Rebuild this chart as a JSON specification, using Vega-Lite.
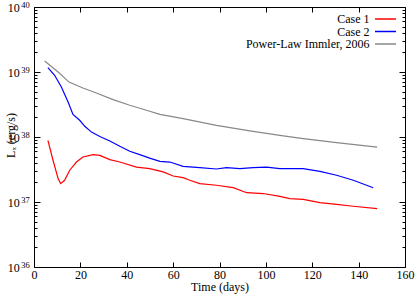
{
  "$schema": "https://vega.github.io/schema/vega-lite/v6.json",
  "width": 371,
  "height": 260,
  "autosize": "none",
  "padding": {"left": 34, "top": 7, "right": 10, "bottom": 27},
  "config": {
    "font": "'Liberation Serif', 'Times New Roman', 'DejaVu Serif', serif",
    "view": {"stroke": "#000000", "strokeWidth": 1},
    "axis": {"domain": false, "grid": false, "tickColor": "#000000", "labelColor": "#000000", "titleColor": "#000000", "labelFont": "'Liberation Serif', 'Times New Roman', 'DejaVu Serif', serif", "titleFont": "'Liberation Serif', 'Times New Roman', 'DejaVu Serif', serif", "labelFontSize": 12, "titleFontSize": 12, "titleFontWeight": "normal"},
    "legend": {"labelFont": "'Liberation Serif', 'Times New Roman', 'DejaVu Serif', serif", "labelFontSize": 12, "labelColor": "#000000"}
  },
  "data": {"values": [
    {"series": "Case 1", "day": 6.0, "L": 8.9e37},
    {"series": "Case 1", "day": 8.2, "L": 4.39e37},
    {"series": "Case 1", "day": 10.4, "L": 2.29e37},
    {"series": "Case 1", "day": 11.5, "L": 1.92e37},
    {"series": "Case 1", "day": 13.2, "L": 2.16e37},
    {"series": "Case 1", "day": 15.4, "L": 3.08e37},
    {"series": "Case 1", "day": 18.3, "L": 4.12e37},
    {"series": "Case 1", "day": 21.1, "L": 4.92e37},
    {"series": "Case 1", "day": 25.5, "L": 5.36e37},
    {"series": "Case 1", "day": 28.4, "L": 5.22e37},
    {"series": "Case 1", "day": 32.7, "L": 4.49e37},
    {"series": "Case 1", "day": 37.0, "L": 4.12e37},
    {"series": "Case 1", "day": 44.2, "L": 3.45e37},
    {"series": "Case 1", "day": 49.9, "L": 3.27e37},
    {"series": "Case 1", "day": 55.7, "L": 2.9e37},
    {"series": "Case 1", "day": 60.0, "L": 2.51e37},
    {"series": "Case 1", "day": 64.3, "L": 2.37e37},
    {"series": "Case 1", "day": 67.2, "L": 2.16e37},
    {"series": "Case 1", "day": 71.5, "L": 1.92e37},
    {"series": "Case 1", "day": 78.7, "L": 1.81e37},
    {"series": "Case 1", "day": 85.9, "L": 1.66e37},
    {"series": "Case 1", "day": 91.7, "L": 1.39e37},
    {"series": "Case 1", "day": 98.8, "L": 1.35e37},
    {"series": "Case 1", "day": 106.0, "L": 1.22e37},
    {"series": "Case 1", "day": 110.4, "L": 1.13e37},
    {"series": "Case 1", "day": 116.1, "L": 1.10e37},
    {"series": "Case 1", "day": 123.3, "L": 9.8e36},
    {"series": "Case 1", "day": 130.5, "L": 9.2e36},
    {"series": "Case 1", "day": 137.7, "L": 8.6e36},
    {"series": "Case 1", "day": 148.0, "L": 7.9e36},
    {"series": "Case 2", "day": 6.0, "L": 1.17e39},
    {"series": "Case 2", "day": 8.9, "L": 8.9e38},
    {"series": "Case 2", "day": 11.8, "L": 5.87e38},
    {"series": "Case 2", "day": 14.7, "L": 3.45e38},
    {"series": "Case 2", "day": 16.8, "L": 2.23e38},
    {"series": "Case 2", "day": 19.7, "L": 1.81e38},
    {"series": "Case 2", "day": 21.9, "L": 1.46e38},
    {"series": "Case 2", "day": 24.8, "L": 1.19e38},
    {"series": "Case 2", "day": 28.4, "L": 1.02e38},
    {"series": "Case 2", "day": 32.7, "L": 8.67e37},
    {"series": "Case 2", "day": 37.0, "L": 7.19e37},
    {"series": "Case 2", "day": 41.3, "L": 6.03e37},
    {"series": "Case 2", "day": 45.6, "L": 5.36e37},
    {"series": "Case 2", "day": 49.9, "L": 4.73e37},
    {"series": "Case 2", "day": 54.3, "L": 4.23e37},
    {"series": "Case 2", "day": 58.6, "L": 4.12e37},
    {"series": "Case 2", "day": 64.3, "L": 3.54e37},
    {"series": "Case 2", "day": 71.5, "L": 3.38e37},
    {"series": "Case 2", "day": 78.7, "L": 3.22e37},
    {"series": "Case 2", "day": 83.0, "L": 3.38e37},
    {"series": "Case 2", "day": 88.8, "L": 3.27e37},
    {"series": "Case 2", "day": 94.5, "L": 3.38e37},
    {"series": "Case 2", "day": 100.3, "L": 3.45e37},
    {"series": "Case 2", "day": 106.0, "L": 3.27e37},
    {"series": "Case 2", "day": 116.1, "L": 3.27e37},
    {"series": "Case 2", "day": 123.3, "L": 2.96e37},
    {"series": "Case 2", "day": 130.5, "L": 2.58e37},
    {"series": "Case 2", "day": 137.7, "L": 2.16e37},
    {"series": "Case 2", "day": 146.3, "L": 1.66e37},
    {"series": "Power-Law Immler, 2006", "day": 4.6, "L": 1.476e39},
    {"series": "Power-Law Immler, 2006", "day": 10.4, "L": 1.0e39},
    {"series": "Power-Law Immler, 2006", "day": 15.1, "L": 7.0e38},
    {"series": "Power-Law Immler, 2006", "day": 21.1, "L": 5.68e38},
    {"series": "Power-Law Immler, 2006", "day": 26.9, "L": 4.75e38},
    {"series": "Power-Law Immler, 2006", "day": 34.1, "L": 3.76e38},
    {"series": "Power-Law Immler, 2006", "day": 41.3, "L": 3.08e38},
    {"series": "Power-Law Immler, 2006", "day": 48.5, "L": 2.58e38},
    {"series": "Power-Law Immler, 2006", "day": 54.3, "L": 2.23e38},
    {"series": "Power-Law Immler, 2006", "day": 64.3, "L": 1.92e38},
    {"series": "Power-Law Immler, 2006", "day": 78.7, "L": 1.51e38},
    {"series": "Power-Law Immler, 2006", "day": 93.1, "L": 1.24e38},
    {"series": "Power-Law Immler, 2006", "day": 106.0, "L": 1.06e38},
    {"series": "Power-Law Immler, 2006", "day": 116.1, "L": 9.44e37},
    {"series": "Power-Law Immler, 2006", "day": 130.5, "L": 8.2e37},
    {"series": "Power-Law Immler, 2006", "day": 148.0, "L": 7.0e37}
  ]},
  "resolve": {"axis": {"x": "independent", "y": "independent"}},
  "layer": [
    {
      "mark": {"type": "line", "strokeWidth": 1.2},
      "encoding": {
        "x": {"field": "day", "type": "quantitative", "scale": {"domain": [0, 160], "nice": false},
              "axis": {"orient": "bottom", "title": "Time (days)", "values": [0, 20, 40, 60, 80, 100, 120, 140, 160], "tickSize": -5, "labelPadding": 7, "titlePadding": 1.5, "labelFlush": false}},
        "y": {"field": "L", "type": "quantitative", "scale": {"type": "log", "domain": [1e36, 1e40], "nice": false},
              "axis": {"orient": "left", "title": "Lₓ (erg/s)", "titleX": -17, "titleY": 128, "labelPadding": 20.7, "labelFlush": false, "labelBaseline": "middle",
                "values": [1e36, 2e36, 3e36, 4e36, 5e36, 6e36, 7e36, 8e36, 9e36, 1e37, 2e37, 3e37, 4e37, 5e37, 6e37, 7e37, 8e37, 9e37, 1e38, 2e38, 3e38, 4e38, 5e38, 6e38, 7e38, 8e38, 9e38, 1e39, 2e39, 3e39, 4e39, 5e39, 6e39, 7e39, 8e39, 9e39, 1e40],
                "tickSize": {"condition": {"test": "datum.value == 1e36 || datum.value == 1e37 || datum.value == 1e38 || datum.value == 1e39 || datum.value == 1e40", "value": -6}, "value": -3},
                "labelExpr": "datum.value == 1e36 || datum.value == 1e37 || datum.value == 1e38 || datum.value == 1e39 || datum.value == 1e40 ? '10' : ''"}},
        "color": {"field": "series", "type": "nominal",
                  "scale": {"domain": ["Case 1", "Case 2", "Power-Law Immler, 2006"], "range": ["#ff0000", "#0000ff", "#888888"]},
                  "legend": {"title": null, "orient": "none", "legendX": 345.5, "legendY": 6, "padding": 0, "symbolType": "M-2,0H2", "symbolSize": 110, "symbolStrokeWidth": 1.5, "labelAlign": "right", "labelOffset": -22, "rowPadding": 0.5}}
      }
    },
    {
      "mark": {"type": "line", "strokeOpacity": 0},
      "encoding": {
        "x": {"field": "day", "type": "quantitative", "scale": {"domain": [0, 160], "nice": false},
              "axis": {"orient": "top", "title": null, "labels": false, "values": [0, 20, 40, 60, 80, 100, 120, 140, 160], "tickSize": -5}},
        "y": {"field": "L", "type": "quantitative", "scale": {"type": "log", "domain": [1e36, 1e40], "nice": false},
              "axis": {"orient": "left", "title": null, "ticks": false, "labelPadding": 4.7, "labelFontSize": 8.5, "labelBaseline": "alphabetic", "labelFlush": false,
                "values": [1e36, 1e37, 1e38, 1e39, 1e40],
                "labelExpr": "datum.value == 1e36 ? '36' : datum.value == 1e37 ? '37' : datum.value == 1e38 ? '38' : datum.value == 1e39 ? '39' : '40'"}},
        "detail": {"field": "series", "type": "nominal"}
      }
    },
    {
      "mark": {"type": "line", "strokeOpacity": 0},
      "encoding": {
        "x": {"field": "day", "type": "quantitative", "scale": {"domain": [0, 160], "nice": false}, "axis": null},
        "y": {"field": "L", "type": "quantitative", "scale": {"type": "log", "domain": [1e36, 1e40], "nice": false},
              "axis": {"orient": "right", "title": null, "labels": false,
                "values": [1e36, 2e36, 3e36, 4e36, 5e36, 6e36, 7e36, 8e36, 9e36, 1e37, 2e37, 3e37, 4e37, 5e37, 6e37, 7e37, 8e37, 9e37, 1e38, 2e38, 3e38, 4e38, 5e38, 6e38, 7e38, 8e38, 9e38, 1e39, 2e39, 3e39, 4e39, 5e39, 6e39, 7e39, 8e39, 9e39, 1e40],
                "tickSize": {"condition": {"test": "datum.value == 1e36 || datum.value == 1e37 || datum.value == 1e38 || datum.value == 1e39 || datum.value == 1e40", "value": -6}, "value": -3}}},
        "detail": {"field": "series", "type": "nominal"}
      }
    }
  ]
}
